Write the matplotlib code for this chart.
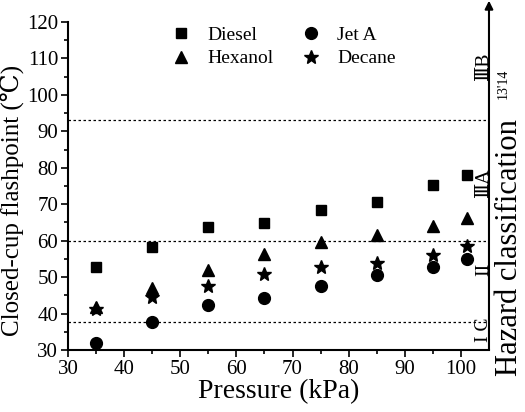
import numpy as np
import matplotlib.pyplot as plt

plt.rcParams['font.family'] = ['Liberation Serif', 'DejaVu Serif']

# data
pressure = [35, 45, 55, 65, 75, 85, 95, 101]
diesel = [52.8, 58.2, 63.8, 64.8, 68.3, 70.6, 75.4, 78.0]
jet_a = [32.0, 37.6, 42.4, 44.4, 47.6, 50.6, 52.8, 55.0]
hexanol = [41.8, 47.0, 52.0, 56.4, 59.6, 61.6, 64.0, 66.2]
decane = [41.2, 44.6, 47.6, 50.8, 52.8, 54.0, 56.0, 58.4]

limits = [37.8, 60, 93]
classes = ["I C", "II", "ⅢA", "ⅢB"]
class_y = [35.5, 52, 76, 108]

fig = plt.figure(figsize=(5.25, 4.12), dpi=100)
ax = fig.add_axes([0.1295, 0.1505, 0.8019, 0.7961])

h_d, = ax.plot(pressure, diesel, 's', color='black', ms=7, label='Diesel')
h_j, = ax.plot(pressure, jet_a, 'o', color='black', ms=8.5, label='Jet A')
h_h, = ax.plot(pressure, hexanol, '^', color='black', ms=9, label='Hexanol')
h_dc, = ax.plot(pressure, decane, '*', color='black', ms=10, label='Decane')

for v in limits:
    ax.axhline(v, color='black', lw=0.9, ls=(0, (2, 2)))

for txt, yv in zip(classes, class_y):
    ax.text(104.0, yv, txt, rotation=90, ha='center', va='center', fontsize=14)

ax.set_xlim(30, 105)
ax.set_ylim(30, 120)
ax.set_xticks(np.arange(30, 101, 10))
ax.set_xticks(np.arange(35, 105, 10), minor=True)
ax.set_yticks(np.arange(30, 121, 10))
ax.set_yticks(np.arange(35, 120, 10), minor=True)
ax.tick_params(which='major', direction='out', length=5, width=1.2, labelsize=15, pad=2)
ax.tick_params(which='minor', direction='out', length=3, width=1.2)

ax.spines['top'].set_visible(False)
ax.spines['right'].set_visible(False)
ax.spines['left'].set_linewidth(1.5)
ax.spines['bottom'].set_linewidth(1.5)

# right axis drawn as arrow
ax.annotate('', xy=(1, 1.065), xytext=(1, 0), xycoords='axes fraction',
            arrowprops=dict(arrowstyle='-|>', color='black', lw=1.5,
                            mutation_scale=12, shrinkA=0, shrinkB=0))

ax.set_xlabel('Pressure (kPa)', fontsize=20, labelpad=0)
ax.set_ylabel('Closed-cup flashpoint (℃)', fontsize=18)
ax.yaxis.set_label_coords(-0.102, 0.457)

fig.text(0.97, 0.40, 'Hazard classification', rotation=90, ha='center',
         va='center', fontsize=22)
fig.text(0.958, 0.796, "13'14", rotation=90, ha='center', va='center',
         fontsize=10)

# order so rows read Diesel / Jet A, Hexanol / Decane
ax.legend([h_d, h_h, h_j, h_dc], ['Diesel', 'Hexanol', 'Jet A', 'Decane'],
          ncol=2, loc='upper center', bbox_to_anchor=(0.51, 1.04), frameon=False,
          fontsize=14, handletextpad=0.75, columnspacing=1.3, labelspacing=0.3,
          handlelength=1.2)

plt.savefig('out.png', dpi=100)
